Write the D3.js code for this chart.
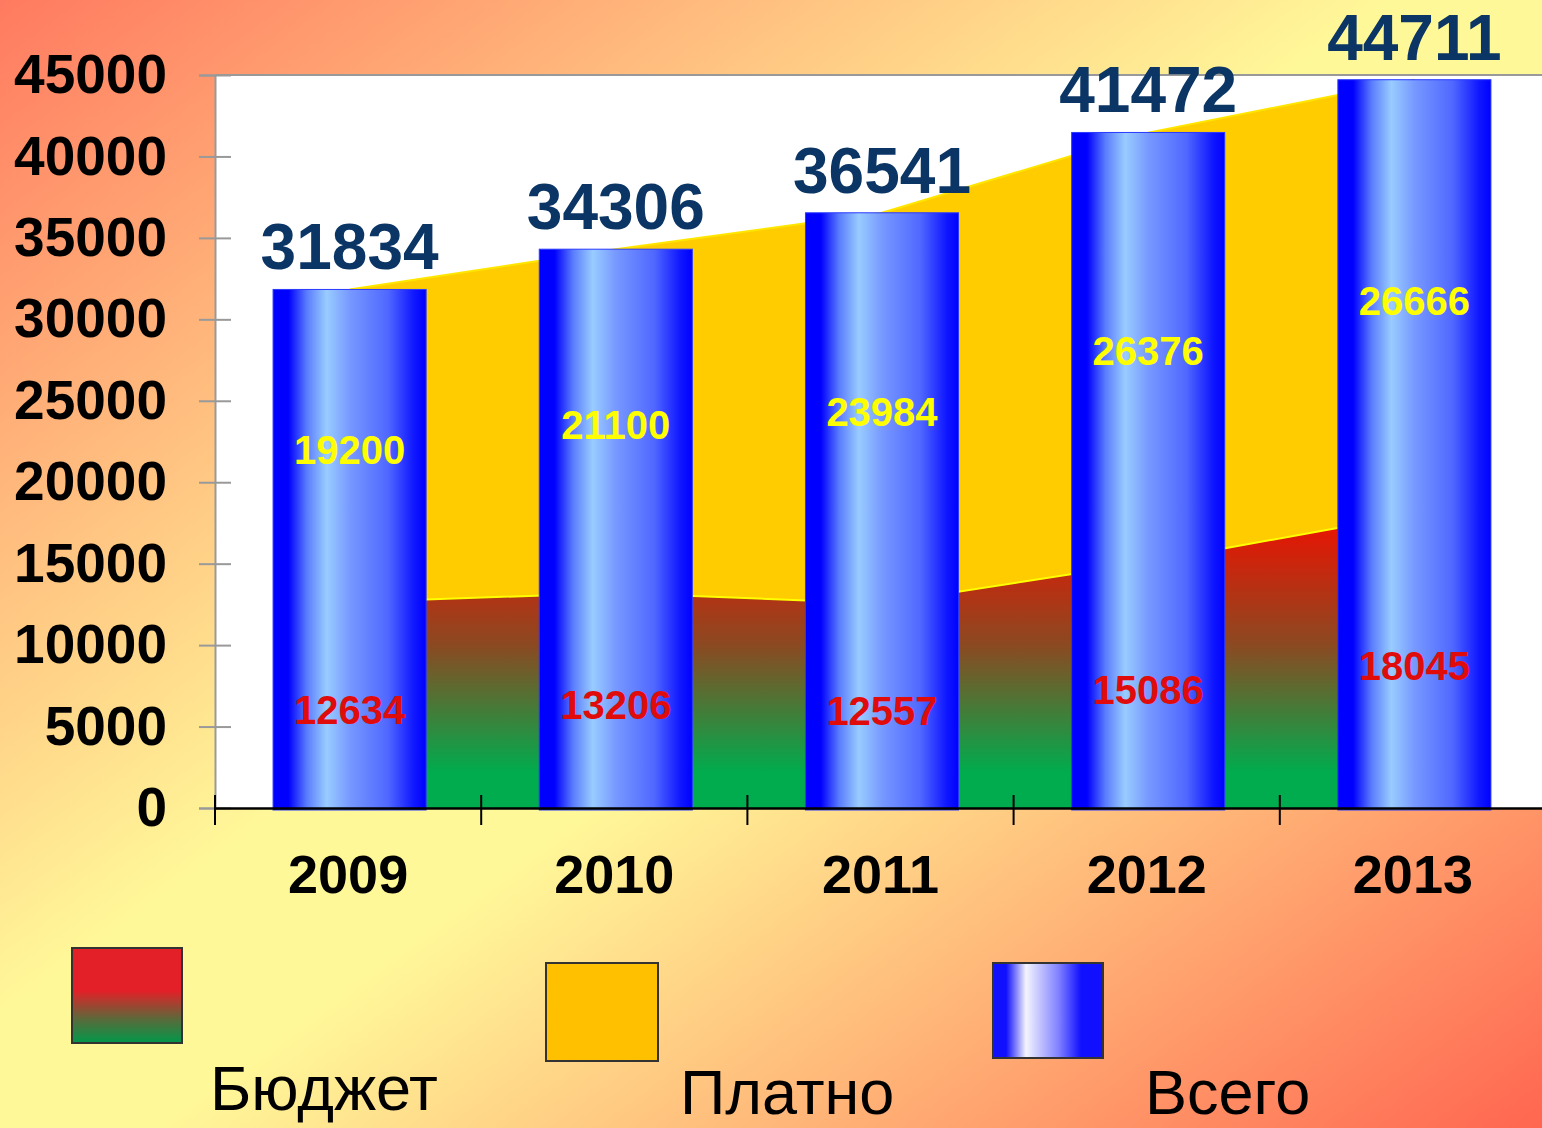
<!DOCTYPE html>
<html>
<head>
<meta charset="utf-8">
<script src="https://cdn.jsdelivr.net/npm/d3@7"></script>
<style>
  body { margin: 0; overflow: hidden; }
  svg { display: block; font-family: 'Liberation Sans', Arial, sans-serif; }
</style>
</head>
<body>
<div id="chart"></div>
<script>
// Chart data
const years = ['2009', '2010', '2011', '2012', '2013']
const budget = [12634, 13206, 12557, 15086, 18045]
const paid = [19200, 21100, 23984, 26376, 26666]
const total = [31834, 34306, 36541, 41472, 44711]
const yTicks = [0, 5000, 10000, 15000, 20000, 25000, 30000, 35000, 40000, 45000]
const legendLabels = ['Бюджет', 'Платно', 'Всего']

const width = 1542
const height = 1128
const margin = { top: 75, left: 215, bottom: 320 }

const svg = d3.select('#chart')
  .append('svg')
  .attr('width', width)
  .attr('height', height)

const defs = svg.append('defs')

// Background diagonal gradient
const bgGrad = defs.append('linearGradient')
  .attr('id', 'bg-grad')
  .attr('x1', 0).attr('y1', 0).attr('x2', 1).attr('y2', 1)
bgGrad.selectAll('stop')
  .data([[0, '#ff7a60'], [0.45, '#fff899'], [0.55, '#fff899'], [1, '#ff6650']])
  .join('stop')
  .attr('offset', d => d[0])
  .attr('stop-color', d => d[1])

// Bar cylinder gradient
const barGrad = defs.append('linearGradient')
  .attr('id', 'bar-grad')
  .attr('x1', 0).attr('y1', 0).attr('x2', 1).attr('y2', 0)
barGrad.selectAll('stop')
  .data([[0, '#0000ff'], [0.1, '#0000ff'], [0.22, '#5a7cff'], [0.35, '#99ccff'], [0.5, '#7799ff'],
    [0.75, '#5068ff'], [0.92, '#1018ff'], [1, '#0000ff']])
  .join('stop')
  .attr('offset', d => d[0])
  .attr('stop-color', d => d[1])

// Budget area gradient (red top -> green bottom)
const budGrad = defs.append('linearGradient')
  .attr('id', 'budget-grad')
  .attr('x1', 0).attr('y1', 0).attr('x2', 0).attr('y2', 1)
budGrad.selectAll('stop')
  .data([[0, '#f01000'], [0.45, '#8a4a22'], [0.88, '#00ac4e'], [1, '#00ac4e']])
  .join('stop')
  .attr('offset', d => d[0])
  .attr('stop-color', d => d[1])

// Legend gradients
const legBud = defs.append('linearGradient')
  .attr('id', 'leg-budget')
  .attr('x1', 0).attr('y1', 0).attr('x2', 0).attr('y2', 1)
legBud.selectAll('stop')
  .data([[0, '#e32028'], [0.45, '#e32028'], [0.75, '#5a6a3a'], [1, '#00984a']])
  .join('stop')
  .attr('offset', d => d[0])
  .attr('stop-color', d => d[1])

const legTot = defs.append('linearGradient')
  .attr('id', 'leg-total')
  .attr('x1', 0).attr('y1', 0).attr('x2', 1).attr('y2', 0)
legTot.selectAll('stop')
  .data([[0, '#1010ff'], [0.12, '#1010ff'], [0.3, '#f4f4ff'], [0.6, '#7f7fff'], [0.8, '#1010ff'], [1, '#1010ff']])
  .join('stop')
  .attr('offset', d => d[0])
  .attr('stop-color', d => d[1])

svg.append('rect')
  .attr('width', width)
  .attr('height', height)
  .attr('fill', 'url(#bg-grad)')

//===========================================================================

// Scales
const xScale = d3.scaleBand()
  .domain(years)
  .range([margin.left, margin.left + 5 * 266.2])

const yScale = d3.scaleLinear()
  .domain([0, 45000])
  .range([height - margin.bottom, margin.top])

const bw = xScale.bandwidth()
const barW = bw * 0.575
// bars sit a touch right of the band centre in the original
const cx = (d) => xScale(d) + bw / 2 + 1.5

const rows = years.map((yr, i) => ({ year: yr, budget: budget[i], paid: paid[i], total: total[i] }))

// Plot area
svg.append('rect')
  .attr('x', margin.left)
  .attr('y', yScale(45000))
  .attr('width', width - margin.left)
  .attr('height', yScale(0) - yScale(45000))
  .attr('fill', '#ffffff')

svg.append('line')
  .attr('x1', margin.left).attr('x2', width)
  .attr('y1', yScale(45000)).attr('y2', yScale(45000))
  .attr('stroke', '#999999')
  .attr('stroke-width', 2)

//===========================================================================

// Areas
const paidArea = d3.area()
  .x(d => cx(d.year))
  .y0(d => yScale(d.budget))
  .y1(d => yScale(d.budget + d.paid))

const budgetArea = d3.area()
  .x(d => cx(d.year))
  .y0(yScale(0))
  .y1(d => yScale(d.budget))

svg.append('path')
  .datum(rows)
  .attr('d', paidArea)
  .attr('fill', '#ffcc00')

svg.append('path')
  .datum(rows)
  .attr('d', d3.line().x(d => cx(d.year)).y(d => yScale(d.budget + d.paid)))
  .attr('fill', 'none')
  .attr('stroke', '#ffe600')
  .attr('stroke-width', 2)

svg.append('path')
  .datum(rows)
  .attr('d', budgetArea)
  .attr('fill', 'url(#budget-grad)')

svg.append('path')
  .datum(rows)
  .attr('d', d3.line().x(d => cx(d.year)).y(d => yScale(d.budget)))
  .attr('fill', 'none')
  .attr('stroke', '#ffff00')
  .attr('stroke-width', 2)

//===========================================================================

// Axes
const yAxis = svg.append('g')
  .attr('class', 'y axis')
  .attr('transform', `translate(${margin.left},0)`)
  .call(d3.axisLeft(yScale).tickValues(yTicks).tickFormat(d3.format('d')).tickSize(16).tickPadding(32))

yAxis.select('.domain').attr('stroke', '#999999').attr('stroke-width', 2)
yAxis.selectAll('.tick line')
  .attr('x1', 16)
  .attr('stroke', '#999999')
  .attr('stroke-width', 2)
yAxis.selectAll('.tick text')
  .attr('font-size', 55)
  .attr('font-weight', 'bold')
  .attr('fill', '#000000')
  .attr('font-family', "'Liberation Sans', Arial, sans-serif")

// Bars
svg.append('g')
  .selectAll('rect')
  .data(rows)
  .join('rect')
  .attr('x', d => cx(d.year) - barW / 2)
  .attr('y', d => yScale(d.total))
  .attr('width', barW)
  .attr('height', d => yScale(0) - yScale(d.total) + 2)
  .attr('fill', 'url(#bar-grad)')
  .attr('stroke', '#2a3aff')
  .attr('stroke-width', 1)

// X axis
const xAxis = svg.append('g')
  .attr('class', 'x axis')
  .attr('transform', `translate(0,${yScale(0)})`)
  .call(d3.axisBottom(xScale).tickSize(0).tickPadding(47))

xAxis.select('.domain').attr('stroke', '#000000').attr('stroke-width', 2.5)
xAxis.selectAll('.tick text')
  .attr('font-size', 54)
  .attr('font-weight', 'bold')
  .attr('fill', '#000000')
  .attr('font-family', "'Liberation Sans', Arial, sans-serif")

xAxis.selectAll('.sep')
  .data(years)
  .join('line')
  .attr('class', 'sep')
  .attr('x1', d => xScale(d)).attr('x2', d => xScale(d))
  .attr('y1', -13).attr('y2', 17)
  .attr('stroke', '#000000')
  .attr('stroke-width', 2)

//===========================================================================

// Value labels
svg.append('g')
  .selectAll('text')
  .data(rows)
  .join('text')
  .attr('x', d => cx(d.year))
  .attr('y', d => yScale(d.total) - 20)
  .attr('text-anchor', 'middle')
  .attr('font-size', 64)
  .attr('font-weight', 'bold')
  .attr('fill', '#0a3565')
  .text(d => d.total)

svg.append('g')
  .selectAll('text')
  .data(rows)
  .join('text')
  .attr('x', d => cx(d.year))
  .attr('y', d => yScale(d.budget + d.paid / 2) + 4)
  .attr('dy', '0.35em')
  .attr('text-anchor', 'middle')
  .attr('font-size', 40)
  .attr('font-weight', 'bold')
  .attr('fill', '#ffff00')
  .text(d => d.paid)

svg.append('g')
  .selectAll('text')
  .data(rows)
  .join('text')
  .attr('x', d => cx(d.year))
  .attr('y', d => yScale(d.budget / 2) + 5)
  .attr('dy', '0.35em')
  .attr('text-anchor', 'middle')
  .attr('font-size', 40)
  .attr('font-weight', 'bold')
  .attr('fill', '#e00b0b')
  .text(d => d.budget)

//===========================================================================

// Legend
const legendLayout = [
  { sx: 72, sy: 948, sw: 110, sh: 95, fill: 'url(#leg-budget)', tx: 210, ty: 1110 },
  { sx: 546, sy: 963, sw: 112, sh: 98, fill: '#ffc000', tx: 680, ty: 1114 },
  { sx: 993, sy: 963, sw: 110, sh: 95, fill: 'url(#leg-total)', tx: 1145, ty: 1114 }
]

const legend = svg.append('g').attr('class', 'legend')
legend.selectAll('rect')
  .data(legendLayout)
  .join('rect')
  .attr('x', d => d.sx)
  .attr('y', d => d.sy)
  .attr('width', d => d.sw)
  .attr('height', d => d.sh)
  .attr('fill', d => d.fill)
  .attr('stroke', '#333333')
  .attr('stroke-width', 2)

legend.selectAll('text')
  .data(legendLayout)
  .join('text')
  .attr('x', d => d.tx)
  .attr('y', d => d.ty)
  .attr('font-size', 63)
  .attr('fill', '#000000')
  .text((d, i) => legendLabels[i])
</script>
</body>
</html>
